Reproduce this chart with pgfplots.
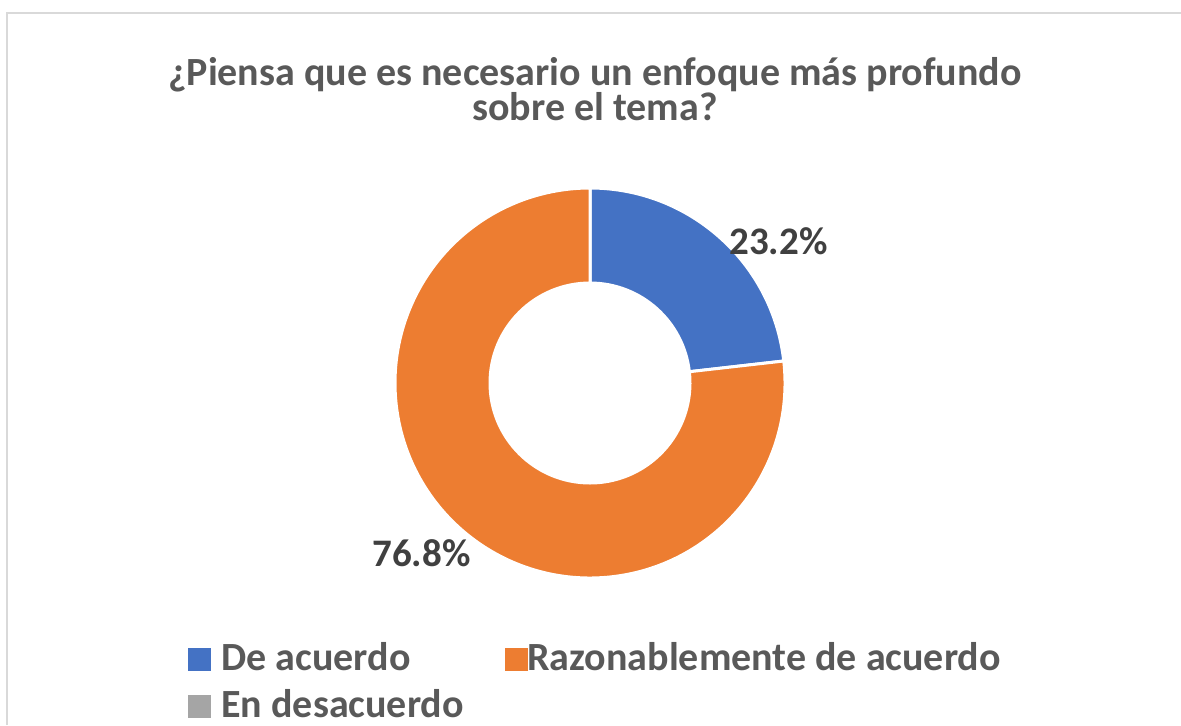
\documentclass[border=0pt]{standalone}
\usepackage{pgfplots}
\usepackage{pgfplotstable}
\pgfplotsset{compat=1.18}
\usepackage{fontspec}
\setmainfont{Carlito}
\definecolor{cblue}{HTML}{4472C4}
\definecolor{corange}{HTML}{ED7D31}
\definecolor{cgray}{HTML}{A5A5A5}
\definecolor{ctext}{HTML}{595959}
\definecolor{clabel}{HTML}{404040}
\definecolor{cborder}{HTML}{D9D9D9}
\pgfplotstableread[col sep=comma]{
cat,value
De acuerdo,23.2
Razonablemente de acuerdo,76.8
En desacuerdo,0
}\datatable
\pgfplotstablegetelem{0}{value}\of\datatable \let\va\pgfplotsretval
\pgfplotstablegetelem{1}{value}\of\datatable \let\vb\pgfplotsretval
\begin{document}
\begin{tikzpicture}
\begin{axis}[
  name=ax,
  width=590.5pt, height=362.5pt, scale only axis,
  xmin=0, xmax=1181, ymin=0, ymax=725,
  hide axis, clip=false,
]
% frame
\draw[cborder, line width=1pt] (axis cs:7,0) -- (axis cs:7,712) -- (axis cs:1181,712);
% donut
\pgfmathsetmacro{\aa}{90-3.6*\va}
\pgfmathsetmacro{\ab}{\aa-3.6*\vb}
\begin{scope}[shift={(axis cs:590,342)}]
\fill[cblue, draw=white, line width=1.5pt] (90:97.5pt) arc[start angle=90, end angle=\aa, radius=97.5pt] -- (\aa:50pt) arc[start angle=\aa, end angle=90, radius=50pt] -- cycle;
\fill[corange, draw=white, line width=1.5pt] (\aa:97.5pt) arc[start angle=\aa, end angle=\ab, radius=97.5pt] -- (\ab:50pt) arc[start angle=\ab, end angle=\aa, radius=50pt] -- cycle;
\end{scope}
% labels
\node[anchor=base, font=\bfseries\fontsize{19.5}{20}\selectfont, text=clabel] at (axis cs:778.5,471) {\va\%};
\node[anchor=base, font=\bfseries\fontsize{19.5}{20}\selectfont, text=clabel] at (axis cs:421.5,159) {\vb\%};
% title
\node[anchor=north, align=center, inner sep=0pt, font=\bfseries\fontsize{20}{17.5}\selectfont, text=ctext] at (axis cs:595,668) {¿Piensa que es necesario un enfoque más profundo\\sobre el tema?};
% legend
\fill[cblue] (axis cs:188,54) rectangle (axis cs:211,77);
\node[anchor=base west, font=\bfseries\fontsize{20}{24}\selectfont, text=ctext, inner sep=0pt] at (axis cs:221,55) {De acuerdo};
\fill[corange] (axis cs:505,54) rectangle (axis cs:528,77);
\node[anchor=base west, font=\bfseries\fontsize{20}{24}\selectfont, text=ctext, inner sep=0pt] at (axis cs:527,55) {Razonablemente de acuerdo};
\fill[cgray] (axis cs:188,7) rectangle (axis cs:211,30);
\node[anchor=base west, font=\bfseries\fontsize{20}{24}\selectfont, text=ctext, inner sep=0pt] at (axis cs:221,8) {En desacuerdo};
\end{axis}
\pgfresetboundingbox
\path[use as bounding box] (ax.south west) rectangle (ax.north east);
\end{tikzpicture}
\end{document}
